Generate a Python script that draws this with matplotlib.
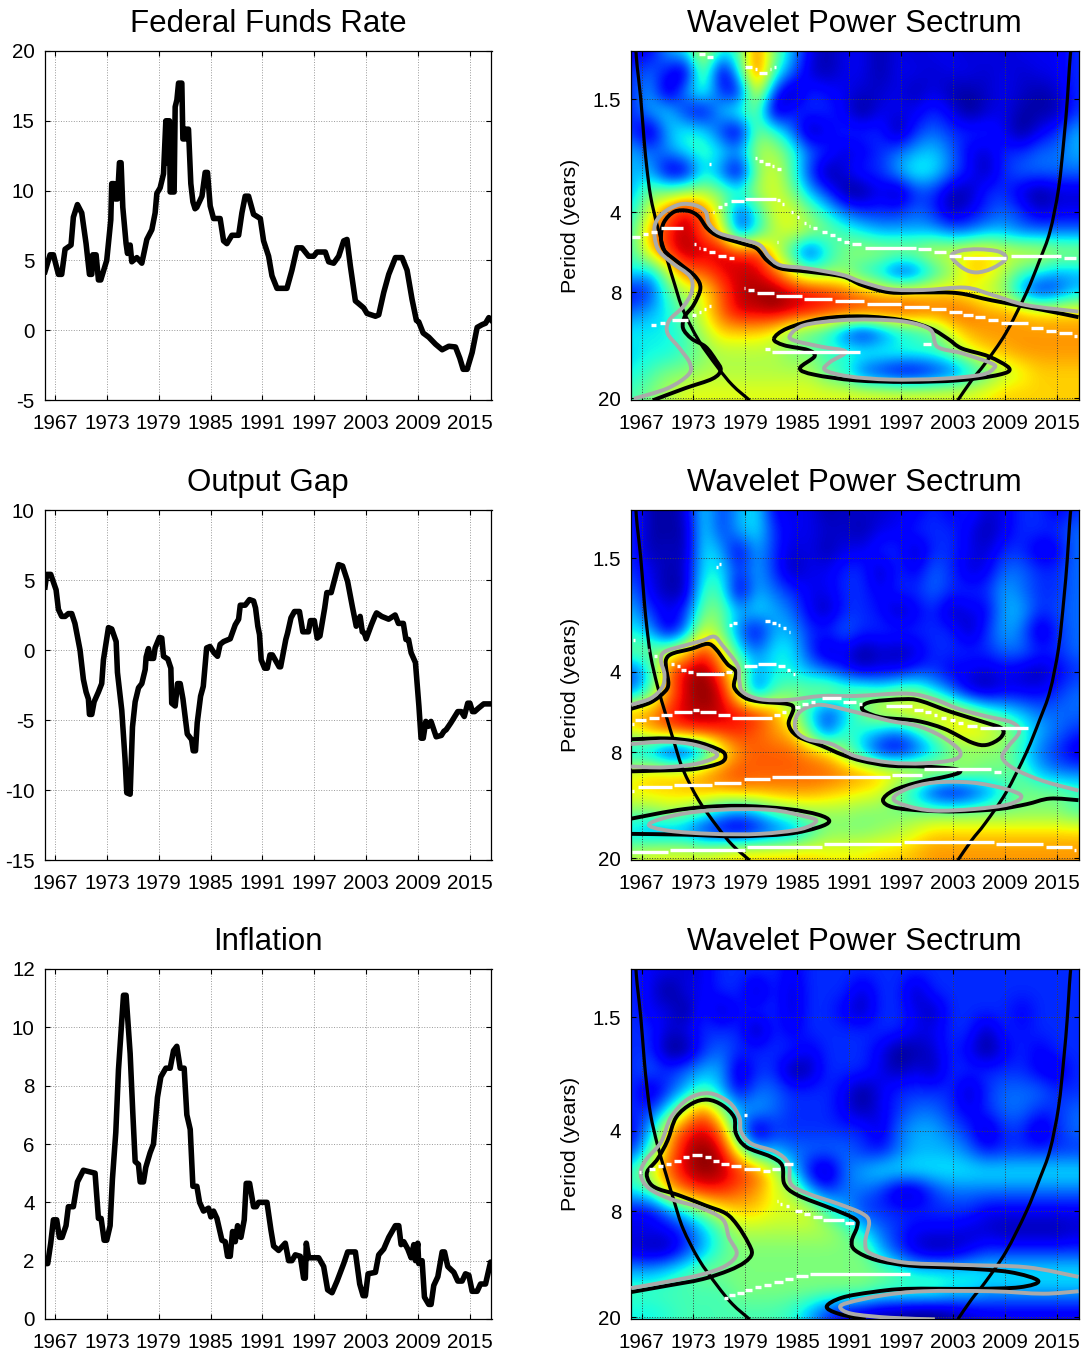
import numpy as np
import matplotlib
matplotlib.use("Agg")
import matplotlib.pyplot as plt
from matplotlib.colors import TwoSlopeNorm
from matplotlib.path import Path
from matplotlib.patches import PathPatch

plt.rcParams['font.family'] = ['Liberation Sans', 'DejaVu Sans']
plt.rcParams['axes.unicode_minus'] = False

# ---- time series
ffr_years = [1965.84,1966.42,1966.81,1967.39,1967.77,1968.16,1968.85,1969.12,1969.59,1970.09,1970.59,1970.98,1971.25,1971.36,1971.75,1972.02,1972.29,1972.98,1973.45,1973.56,1973.83,1973.95,1974.22,1974.45,1974.64,1974.84,1975.22,1975.38,1975.69,1975.88,1976.46,1977.04,1977.62,1978.2,1978.58,1978.78,1979.16,1979.55,1979.82,1979.93,1980.05,1980.24,1980.32,1980.78,1980.9,1981.1,1981.29,1981.67,1981.79,1982.06,1982.14,1982.44,1982.71,1982.95,1983.2,1983.4,1984.0,1984.37,1984.64,1984.95,1985.34,1986.1,1986.5,1986.88,1987.46,1988.24,1988.62,1989.0,1989.39,1989.97,1990.75,1991.13,1991.71,1992.1,1992.68,1993.83,1994.41,1995.0,1995.57,1996.34,1996.92,1997.31,1998.27,1998.66,1999.24,1999.82,2000.4,2000.78,2001.17,2001.75,2002.14,2002.71,2003.1,2004.07,2004.45,2005.03,2005.61,2006.38,2007.15,2007.73,2008.31,2008.81,2009.08,2009.59,2010.24,2011.02,2011.79,2012.56,2013.33,2013.83,2014.22,2014.68,2015.26,2015.84,2016.42,2016.81,2017.19,2017.5]
ffr_values = [4.2,5.4,5.4,4.0,4.0,5.8,6.1,8.1,9.0,8.4,6.2,4.0,4.0,5.4,5.4,3.6,3.6,5.0,7.9,10.5,10.5,9.4,9.4,12,12,8.8,6.2,5.5,6.1,4.9,5.2,4.8,6.5,7.2,8.4,9.8,10.2,11.2,15,12,15,15,9.9,9.9,16,16.5,17.7,17.7,13.7,13.7,14.4,14.4,10.5,9.2,8.7,8.8,9.6,11.3,11.3,8.9,8.0,8.0,6.4,6.2,6.8,6.8,8.4,9.6,9.6,8.3,8,6.4,5.3,3.9,3,3,4.3,5.9,5.9,5.3,5.3,5.6,5.6,4.9,4.8,5.3,6.4,6.5,4.6,2.1,1.9,1.6,1.2,1,1.1,2.7,4,5.2,5.2,4.3,2.2,0.7,0.6,-0.2,-0.5,-1,-1.4,-1.15,-1.2,-2,-2.8,-2.8,-1.6,0.2,0.4,0.5,0.9,0.7]

gap_years = [1965.84,1966.03,1966.5,1967.12,1967.39,1967.77,1968.16,1968.54,1968.93,1969.3,1969.89,1970.28,1970.59,1970.86,1970.98,1971.25,1971.52,1972.02,1972.4,1972.6,1973.18,1973.56,1974.07,1974.22,1974.72,1975.1,1975.3,1975.69,1975.96,1976.27,1976.66,1977.04,1977.43,1977.54,1977.81,1978.0,1978.4,1978.58,1979.08,1979.35,1979.55,1980.05,1980.4,1980.5,1980.9,1981.17,1981.48,1981.8,1982.3,1982.8,1982.99,1983.25,1983.45,1983.84,1984.15,1984.54,1984.93,1985.4,1985.8,1986.1,1986.5,1987.27,1987.85,1988.24,1988.43,1989.0,1989.5,1989.97,1990.2,1990.46,1990.66,1990.85,1991.25,1991.56,1991.87,1992.15,1992.93,1993.1,1993.7,1993.9,1994.3,1994.7,1995.28,1995.67,1996.32,1996.55,1997.0,1997.33,1997.65,1997.9,1998.2,1998.45,1998.95,1999.5,1999.8,2000.27,2000.85,2001.4,2001.85,2002.3,2002.55,2002.8,2003.0,2003.6,2004.0,2004.2,2004.8,2005.6,2006.35,2006.73,2007.3,2007.6,2007.9,2008.2,2008.7,2009.1,2009.35,2009.6,2009.9,2010.2,2010.5,2011.1,2011.7,2012.0,2012.25,2012.8,2013.6,2014.0,2014.35,2014.75,2015.0,2015.3,2015.55,2016.0,2016.6,2017.2,2017.5]
gap_values = [4.5,5.4,5.4,4.3,2.9,2.4,2.4,2.6,2.6,1.9,0,-2.1,-3,-3.5,-4.6,-4.6,-3.7,-3,-2.4,-0.7,1.6,1.5,0.6,-1.6,-4.3,-7.8,-10.2,-10.3,-5.5,-3.7,-2.7,-2.4,-1.4,-0.5,0.1,-0.6,-0.6,0.15,0.9,0.85,-0.45,-0.65,-1.3,-3.8,-4,-2.4,-2.4,-3.5,-6,-6.4,-7.2,-7.2,-5.2,-3.3,-2.6,0.15,0.25,-0.2,-0.45,0.4,0.6,0.8,1.8,2.2,3.2,3.2,3.6,3.5,3,1.7,1.1,-0.7,-1.3,-1.3,-0.35,-0.35,-1.2,-1.2,0.75,1.2,2.3,2.75,2.75,1.3,1.3,2.1,2.1,0.85,1,1.9,3,4.1,4.1,5.4,6.1,6,4.9,3.1,1.7,2.4,1.3,1.2,0.8,1.8,2.4,2.65,2.4,2.2,2.5,1.9,1.9,0.75,0.75,-0.2,-0.9,-4,-6.3,-6.3,-5.1,-5.45,-5.1,-6.2,-6.1,-5.8,-5.7,-5.2,-4.4,-4.4,-4.75,-3.8,-3.8,-4.4,-4.4,-4.15,-3.85,-3.85,-3.85]

inf_years = [1965.84,1966.15,1966.5,1966.81,1967.19,1967.5,1967.81,1968.27,1968.54,1969.12,1969.59,1970.28,1971.63,1972.02,1972.33,1972.68,1972.98,1973.37,1973.64,1974.03,1974.34,1974.92,1975.22,1975.69,1976.0,1976.27,1976.65,1976.85,1977.23,1977.5,1978.0,1978.39,1978.85,1979.24,1979.82,1980.32,1980.71,1981.09,1981.48,1981.94,1982.25,1982.64,1982.95,1983.41,1983.72,1984.18,1984.76,1985.03,1985.34,1985.73,1986.31,1986.69,1986.96,1987.27,1987.54,1987.85,1988.12,1988.51,1988.89,1989.12,1989.51,1989.97,1990.28,1990.55,1991.52,1991.98,1992.29,1992.87,1993.64,1994.03,1994.41,1994.8,1995.38,1995.76,1995.96,1996.07,1996.34,1997.5,1998.08,1998.54,1999.05,1999.63,2000.4,2000.86,2001.75,2002.25,2002.64,2002.91,2003.22,2004.07,2004.45,2005.03,2005.61,2006.38,2006.77,2007.04,2007.35,2007.81,2008.2,2008.51,2008.7,2008.97,2009.08,2009.47,2009.74,2010.24,2010.51,2010.82,2011.29,2011.79,2012.06,2012.44,2013.14,2013.6,2014.1,2014.49,2014.88,2015.26,2015.84,2016.23,2016.81,2017.08,2017.39,2017.58]
inf_values = [1.9,1.9,2.6,3.4,3.4,2.8,2.8,3.2,3.85,3.85,4.7,5.1,5,3.45,3.45,2.7,2.7,3.2,4.8,6.4,8.55,11.1,11.1,9.1,7.05,5.4,5.3,4.7,4.7,5.2,5.7,6,7.6,8.3,8.6,8.6,9.2,9.35,8.6,8.6,7,6.5,4.55,4.55,4,3.7,3.8,3.5,3.7,3.45,2.7,2.65,2.15,2.15,3,2.65,3.2,2.8,3.4,4.65,4.65,3.85,3.85,4,4,3.05,2.5,2.35,2.6,2,2,2.2,2.15,1.4,1.4,2.6,2.1,2.1,1.8,1,0.9,1.3,1.9,2.3,2.3,1.2,0.8,0.8,1.55,1.6,2.2,2.4,2.8,3.2,3.2,2.55,2.65,2.4,2.1,2.55,2,2.6,1.9,2,0.75,0.5,0.5,1.15,1.45,2.3,2.3,1.8,1.6,1.3,1.3,1.55,1.5,0.95,0.95,1.2,1.2,1.55,1.95,1.95]

# ---- wavelet power on a coarse grid, rows are log2(period) 0, .25 ... 4.25
ffr_power = [
 [2,2,5,6,10,6,7,13,8,5,2,1,2,2,1,2,1.5,2,2,1.5,2,1.5,2,2,2,3],
 [3,4,2.5,.5,9,.5,6,14,7,4,1.5,1,2,2,1,2,2,1.5,2,2,1.5,2,1.5,2,2,3],
 [3,5,.5,5,7,3,1.5,11,3,.5,3,2.5,2,1.5,1.5,2,1,2,1,1,1.5,2,1.5,1,1.5,3],
 [3,5,6,2.5,1.5,5.5,7,8,.5,3,3,3,2,.5,2,2,2,3,2,.5,1.5,2,1,1,1,3],
 [3,.5,5,6.5,6,3,.5,8,7,4,.5,2,3,3,3,.5,3,4,3,3,3,2,.5,2,3,5],
 [5,4,4.5,6,7,6,5,9,9,7,4,3,1.5,2,3,4,5,5.5,4,2,1.5,3,3,4,4,5],
 [5,5,1,1,6,4,.5,8,10,7,3,.5,2,3,3,5,6.5,6,4,2.5,1,3,4,4,4,4],
 [5,8,8,9,9,8,7,9,10,8,5,3,.5,.5,2,.5,3,3,1,1,3,3,1.5,.5,1.5,1.5],
 [6,10,13,15,13,9,3,6,10,10,8,6,4,3,3,3,4,3,1,2,3,4,3,1.5,2,2],
 [7,12,14,15.5,13,11,3,6,9,10,9,8,7,6,5,5,5,5,4,4,5,5,4,4,4,4],
 [7,11,14,15.5,15,15,14,14,10,6,2,6,8,9,9,9,9,10,10,11,11,10,10,10,9,9],
 [6,5,9,13,13,14.5,15,15,13,10,8,8,8,6,5,2,3,6,8,11,11,9,7,6,5,5],
 [2,3,7,9,10,13,15,15.5,16,15,14.5,14,13,12,11,11,11,11,11,10,9,8,4,2,3,5],
 [4,5,6,8,10,13,15,15,15.5,15,14.5,14,14,14,14,14,13.5,13,13,13,12,12,11.5,11,11,11],
 [6,6,6,7,9,11,11,11,10,8,7,6,3,1,3,5,6,7,10,11.5,12,12,12,12,12,12],
 [5.5,6,6,7,8,9,9,9,9,8,8,7,7,7,7,7,7,7,8,10,11,11.5,12,12,12,12],
 [6,7,8,8,9,9,9,9,9,9,9,7,6,3,2,1,1,2,3,5,7,9,10,11,11,11],
 [7,8,9,10,10,10,10,10,10,10,10,10,10,10,10,10,10,10,10,10,10.5,11,11,11,11,11],
]
gap_power = [
 [3,1,1,1.5,6,3,5,6,2,2,2,1,1.5,1.5,1.5,2,2,3,2,3,1.5,2,3,3,2,3],
 [3,1,1,1,6,3,5,6,3,2,2,1.5,1.5,1,2,2,3,3,3,2,1,2,3,3,3,4],
 [3,1,1.5,1,6,5,1.5,5,3,1.5,2,1,2,2,3,3,1,3,3,2,1.5,3,3,1.5,2,4],
 [3,2,1,1.5,6,6,3,5,3,1,2,2,3,3,1,3,2,4,3,1.5,2,4,4,3,3,4],
 [4,2,1,1,7,7,1,5,4,3,2,2,3,3,2,3,3,4,3,3,3,5,4,3,3,4],
 [5,3,2,3,8,8,5,6,5,4,2,1,3,3,2.5,1,2,3,1,2,2,5,5,3,3.5,4],
 [6,5,1,4,10,8,4,1.5,5,5,3,3,4,3,3,3,3,3,3,1,3,5,4,1,3,4],
 [8,8,9,11,14,11,6,4,6,6,3,1,2,.5,1.5,1,1.5,3,3,3,3,4,4,3,3,4],
 [3,6,13,15,16,13,9,5,6,6,5,4,2.5,1.5,2,2,3,3,2,2,1.5,2,1.5,1,2,3],
 [4,7,12,15,16,15,9,3,7,8,8,9,8,8,7,8,8,6,4,1.5,1,2,2,2,3,4],
 [12,12,14,15,15.5,15,14.5,14,12,9,6,3,5,8,10,10.5,11,11,10,9,7,6,5,4,4,4],
 [10,12,13,14,14,14,14,13,12,11,7,3,7,6,5,4,6,8,10.5,11,10.5,9,7,5,4,3],
 [5,4,1,1,4,9,12,13,13,13,12,11,8,5,2,1.5,3,5,7,8,8,8,6,4,3,1.5],
 [10,11,11,11,12,13,13.5,13,13,13,13,13,12.5,12,11.5,11,10.5,10,9.5,9,8,8,7,5,4,4],
 [10.5,11,11,11.5,11.5,11.5,12,12,12,12,12,11.5,11,10.5,10,7,5,2,1,2,4,6,8,8,8,7],
 [8,8,9,8,7,5,4,5,7,8,8.5,8.5,8.5,8,8,8,8,8,8,8,8,8,8,8,8,7],
 [5,4,4,4,2,1.5,1,2,3,4,6,8,8,8,8.5,9,10,11,11,11,11,11,11,11,11,11],
 [9,10,10,10,10,10.5,11,11,11,11,11,10.5,10.5,10.5,11,11,11.5,12,12,12,12,12,12,12,12,12],
]
inf_power = [
 [3,2,2,1.5,2,3,3,3,3,2,3,3,3,3,3,3,3,3,3,3,3,3,3,3,3,3],
 [3,2,.5,2,2,3,3,1,3,1.5,3,3,3,1.5,3,3,1,3,3,3,3,3,3,3,3,3],
 [3,2,2,.5,3,1,2.5,3,3,1.5,3,3,2,1,3,3,2,1,3,3,3,3,2,3,3,3],
 [3,3,1.5,2,3,3,3,.5,3,2,3,3,3,3,3,3,2,2,3,3,1,3,2.5,3,3,3],
 [3,3,.5,.5,3,4,3,3,3,3,2,3,3,3,2,.5,1,1.5,3,2,.5,2,3,2,3,3],
 [3,4,3,4,5,5,1,3,3,.5,1,3,3,3,2,1,2,1,3,3,3,3,3,2,1.5,3],
 [3,1,3,5,7,5,2,4,4,3,3,3,2,.5,2,3,3,3,3,1,3,4,4,4,3,3],
 [3,3,6,10,13,9,5,5,4,3,3,3,2,1,2,3,4,4,3,2,3,4,4,3,3,4],
 [2,5,11,14,15,13,5,.5,3,3,3,3,3,3,1.5,4,5,5,4,3,1,3,3,1,3,4],
 [3,7,12,15,16,15,10,5,5,4,4,4,4,3,2.5,4,5,5,5,4,2.5,3,3,3,3,3],
 [7,10,13,15,16,15.5,14,13,10,6,2,.5,4,5,6,6,6,6,6,6,6,6,6,6,6,6],
 [6,7,11,13,14,14,13,12,10,9,5,3,4,4,3,1,1,3,4,4,4,4,4,4,4,4],
 [2,2,4,6,8,10,11,11,10,10,10,7,5,3,3,3,3,3,3,3,2,2,2,2,2,2],
 [2,2,2,3,5,7,9,9,9,9,9,9,8,6,4,3,2,2,2,1.5,1.5,1,1,1,1,1.5],
 [1.5,1,1,3,5,7,8,8,8,8,8,8,8,8,5,3,1.5,.8,1,2,3,3,3,3,3,3],
 [5,5,6,7,8,8,8,8,8,8,8,8,8,8,8,7,6,6,6,6,6,6,6,6,6,6],
 [7,7,7,7,7,7,8,8,8,8,8,8,8,8,7,7,7,7,6,6,5,5,5,5,5,5],
 [6,6,6.5,7,7,7,7,7,7,6.5,5,3,2,1.5,1,.8,.5,.5,1,1.5,2,2,2,2,2,2],
]

# ---- cone of influence, same on all three
cone_left_x = [1966.35,1966.5,1966.9,1967.3,1967.6,1968.05,1968.85,1969.85,1970.8,1971.8,1973.6,1975.75,1977.5,1979.5]
cone_left_y = [-0.02,0.18,0.57,1.10,1.43,1.80,2.18,2.55,2.89,3.22,3.60,3.93,4.16,4.35]
cone_right_x = [2016.6,2016.45,2016.2,2015.8,2015.2,2014.2,2013.0,2011.45,2009.1,2006.7,2005.15,2003.55]
cone_right_y = [-0.02,0.18,0.60,1.10,1.70,2.24,2.60,3.01,3.51,3.89,4.10,4.35]

# ---- significance contours (year, log2 period)
ffr_black = [
 ([2017.5,2013.4,2007.5,2003.6,1999.6,1995.7,1992.5,1990.2,1986.2,1983.05,1981.5,1980.3,1978.7,1975.95,1974.6,1973.6,1972.4,1970.8,1969.6,1969.25,1969.6,1971.4,1973.2,1973.8,1973,1972,1971.8,1972.8,1974.4,1975.6,1976.15,1975.2,1972,1968.3],
  [3.31,3.22,3.10,3.01,3.00,3.00,2.91,2.80,2.74,2.70,2.60,2.45,2.39,2.30,2.20,2.05,1.98,1.99,2.12,2.30,2.47,2.64,2.80,2.95,3.16,3.30,3.45,3.58,3.68,3.85,3.97,4.08,4.20,4.35]),
 ([1982.3,1983.85,1987.8,1992.5,1997.3,2000.4,2002.4,2004,2007.1,2009.5,2008.3,2003.6,1997.65,1991.7,1987,1985.3,1987,1986.2,1983.45,1982.3],
  [3.58,3.45,3.33,3.30,3.35,3.45,3.58,3.70,3.80,3.95,4.03,4.10,4.12,4.10,4.03,3.95,3.80,3.72,3.66,3.58]),
]
ffr_gray = [
 ([2017.5,2011.5,2007.5,2004.4,1999.6,1995.7,1992.5,1990.2,1986.2,1983.05,1981.7,1980.7,1978.7,1976,1974.8,1974.4,1973.2,1971.4,1969.45,1968.5,1968.85,1970.4,1972.6,1972.8,1971.8,1970.2,1970,1971.4,1972.6,1972.4,1970,1966.1],
  [3.24,3.16,3.03,2.94,2.97,2.96,2.87,2.78,2.70,2.66,2.55,2.41,2.34,2.26,2.14,1.99,1.91,1.90,2.01,2.18,2.45,2.62,2.80,2.99,3.18,3.35,3.51,3.70,3.89,4.03,4.20,4.33]),
 ([1984.2,1985.8,1989.8,1993.7,1997.65,2000.4,2001.2,2004,2007.5,2007.7,2006.3,2001.6,1995.7,1990.9,1988.2,1988.8,1990.6,1987.8,1984.6,1984.2],
  [3.53,3.41,3.35,3.34,3.37,3.47,3.68,3.76,3.89,3.95,4.03,4.08,4.09,4.05,3.97,3.87,3.74,3.68,3.60,3.53]),
 ([2002.8,2003.8,2005.9,2008.3,2009.1,2007.5,2005.7,2004.2,2002.8],
  [2.55,2.48,2.46,2.49,2.58,2.70,2.75,2.70,2.55]),
]
gap_black = [
 ([1965.8,1968.05,1969.65,1970.1,1969.85,1969.85,1970.6,1972.8,1974.6,1975.55,1976.9,1977.9,1977.7,1978.9,1980.7,1983.85,1984.55,1984,1985,1987.8,1990.15,1992.5,1995.7,1999.6,2003.2,2003.8,2002.4,1998.9,1996.1,1994.9,1996.1,1999.6,2003.6,2008.3,2011.5,2014.2,2017.5],
  [2.46,2.38,2.25,2.15,1.96,1.84,1.77,1.71,1.65,1.71,1.90,2.00,2.19,2.32,2.37,2.40,2.46,2.65,2.80,2.92,3.03,3.11,3.17,3.18,3.21,3.25,3.30,3.38,3.48,3.60,3.69,3.73,3.74,3.71,3.65,3.58,3.60]),
 ([1992.5,1993.7,1997.25,1999.2,2002.8,2006.7,2008.7,2008.5,2006.9,2005.15,2002,1998.8,1994.9,1992.9,1992.5],
  [2.43,2.37,2.34,2.36,2.50,2.63,2.71,2.82,2.91,2.88,2.71,2.61,2.57,2.50,2.43]),
 ([1965.8,1970,1973.2,1975.75,1976.65,1976.2,1973.2,1969.2,1965.8],
  [2.84,2.83,2.87,2.96,3.03,3.13,3.21,3.23,3.24]),
 ([1965.8,1972,1977.9,1983.85,1987.4,1988.7,1987.4,1983.85,1977.9,1972,1965.8],
  [3.83,3.71,3.67,3.71,3.78,3.86,3.94,4.02,4.05,4.03,4.02]),
]
gap_gray = [
 ([1965.8,1968.05,1969.4,1969.65,1969.25,1969.65,1972,1974,1975.4,1976.35,1978.1,1978.3,1978.7,1980.7,1983.85,1987.8,1991.7,1997.65,2000.8,2003.6,2006.7,2009.8,2010.65,2009.3,2008.7,2010.1,2013.4,2017.5],
  [2.41,2.33,2.19,2.03,1.86,1.75,1.67,1.61,1.56,1.67,1.92,2.11,2.25,2.34,2.35,2.30,2.30,2.27,2.34,2.46,2.55,2.63,2.75,2.94,3.07,3.21,3.36,3.48]),
 ([1984.85,1985.8,1987.8,1991.7,1995.7,1998.8,2001.6,2003.75,2003.2,1999.6,1995.7,1991.7,1988.95,1986.2,1984.85,1984.85],
  [2.57,2.46,2.41,2.50,2.61,2.67,2.80,2.98,3.09,3.14,3.13,3.05,2.90,2.84,2.73,2.57]),
 ([1965.8,1969.65,1973.2,1975.75,1973.6,1969.65,1965.8],
  [2.90,2.87,2.91,3.03,3.14,3.19,3.18]),
 ([1967.85,1971.2,1975.95,1981.9,1985.8,1987.2,1985.4,1980.7,1975.2,1970.1,1967.85],
  [3.90,3.78,3.72,3.72,3.80,3.86,3.96,4.02,4.02,3.98,3.90]),
 ([1996.1,1997.65,2000.8,2005.15,2009.1,2010.9,2009.5,2005.5,2000.8,1997.65,1996.1],
  [3.58,3.46,3.38,3.38,3.46,3.55,3.65,3.71,3.73,3.67,3.58]),
]
inf_black = [
 ([1965.8,1970,1974,1977.1,1978.9,1979.75,1979.3,1978.1,1976.75,1974.4,1971.25,1968.85,1967.9,1967.65,1968.85,1970,1971,1972.8,1974.6,1976.35,1977.7,1977.9,1979.1,1981.9,1983.25,1983.5,1985,1989,1991.7,1991.9,1991.3,1991.7,1994.1,1998,2003.6,2009.5,2012.85,2010.7,2005.5,1997.65,1993.7,1990.15,1988.4,1989.75,1992.9],
  [4.01,3.93,3.85,3.74,3.64,3.53,3.39,3.18,3.03,2.93,2.80,2.72,2.64,2.51,2.35,2.12,1.83,1.66,1.61,1.68,1.83,2.03,2.20,2.32,2.43,2.66,2.80,2.97,3.10,3.20,3.37,3.49,3.61,3.68,3.71,3.76,3.87,3.95,3.97,3.97,4.01,4.08,4.19,4.28,4.35]),
]
inf_gray = [
 ([1965.8,1970,1974,1976.75,1978,1977.1,1976.35,1973.6,1970.4,1967.9,1966.9,1967.45,1969.25,1970.4,1972.4,1974.8,1977.1,1978.3,1978.5,1979.7,1982.45,1984,1984.25,1986.2,1989.75,1992.5,1993.3,1992.85,1993.5,1997.25,2003.6,2011.45,2017.5],
  [3.96,3.88,3.79,3.68,3.53,3.33,3.10,2.95,2.85,2.72,2.55,2.37,2.14,1.83,1.60,1.53,1.64,1.83,2.01,2.16,2.26,2.41,2.66,2.78,2.91,3.03,3.14,3.39,3.53,3.64,3.67,3.70,3.82]),
 ([2017.5,2013.4,2007.5,1999.6,1994.9,1990.95,1989.95,1991.3,1995.7,2000.9],
  [4.00,4.03,4.00,4.00,4.05,4.14,4.20,4.28,4.33,4.35]),
]

# ---- ridges of local maxima: start year, end year, log2 period
ffr_ridge_x0 = [1973.6,1974.6,1978.9,1980.1,1980.6,1981.8,1982.3,1974.8,1980.1,1980.6,1981.3,1982.1,1982.6,1965.9,1967.2,1968.1,1969.25,1975.2,1975.8,1976.5,1977.3,1979,1982.7,1983.25,1984.3,1985,1985.8,1986.3,1986.8,1987.8,1988.8,1989.6,1990.35,1991.3,1992.8,1999,2000.8,2002.5,2004.2,2009.7,2015.8,1982.6,1973.1,1973.6,1974.1,1974.8,1975.8,1977.1,1978.8,1979.3,1980.3,1982.5,1985.8,1989.3,1993,1997.3,2000.5,2002.5,2004.2,2005.5,2007,2008.5,2012,2013.7,2015.3,2017,1968.1,1969.1,1970.5,1972.8,1973.6,1974.2,1974.8,1981.3,1982.1,1999.5]
ffr_ridge_x1 = [1974.3,1975.3,1979.8,1980.3,1981.5,1982.0,1982.5,1975.0,1980.3,1981,1981.8,1982.3,1983.1,1966.8,1967.7,1968.8,1971.8,1975.4,1976.3,1976.9,1978.8,1982.5,1983,1983.45,1984.5,1985.2,1986,1986.5,1987.3,1988.4,1989.3,1990,1990.95,1992.4,1998.75,2000.5,2002.2,2003.9,2009.1,2015.5,2017.2,1982.8,1973.3,1973.8,1974.5,1975.5,1976.8,1977.7,1979,1980,1982.3,1985.5,1989,1992.7,1997,2000.2,2002.2,2004,2005.3,2006.7,2008.2,2011.7,2013.4,2014.9,2016.7,2017.3,1968.7,1969.7,1972.4,1973.3,1973.9,1974.5,1975,1981.8,1992.2,2000.5]
ffr_ridge_p = [0.02,0.05,0.18,0.21,0.25,0.21,0.18,1.39,1.32,1.36,1.39,1.42,1.46,2.31,2.27,2.24,2.20,2.00,1.93,1.89,1.86,1.83,1.85,1.90,2.00,2.06,2.13,2.17,2.20,2.24,2.28,2.33,2.37,2.40,2.44,2.46,2.50,2.54,2.57,2.54,2.57,2.37,2.40,2.44,2.46,2.50,2.54,2.57,2.94,2.97,3.01,3.04,3.08,3.11,3.14,3.18,3.21,3.25,3.28,3.31,3.35,3.38,3.45,3.48,3.51,3.55,3.41,3.38,3.34,3.28,3.24,3.21,3.17,3.71,3.75,3.65]

gap_ridge_x0 = [1975.6,1976,1977.1,1977.6,1981.3,1982.1,1982.8,1983.4,1984,1966,1967,1967.7,1968.45,1970.35,1971.15,1971.6,1972.4,1973.3,1976.8,1978.8,1980.5,1982.8,1983.85,1984.45,1965.9,1966.3,1967.9,1969.25,1970.75,1973,1973.8,1975.8,1977.5,1982.3,1983.25,1984.7,1985.6,1986.6,1987.8,1990.25,1992.15,1995.3,1998.5,1999.8,2000.8,2001.6,2002.6,2003.6,2004.6,2006.1,1965.9,1966.6,1970.8,1975.4,1978.8,1982.1,1996,1999.7,2007.7,1965.9,1970.3,1979.2,1988.1,1997.3,2008,2013.7,2017]
gap_ridge_x1 = [1975.85,1976.2,1977.4,1978,1981.8,1982.5,1983.05,1983.7,1984.2,1966.2,1967.1,1967.9,1968.8,1970.75,1971.5,1972.1,1973,1976.55,1977.5,1980.3,1982.5,1983.6,1984.1,1984.7,1966.1,1967.5,1969.05,1970.5,1972.8,1973.6,1975.6,1977.25,1982.1,1983.05,1983.65,1985.3,1986.2,1987,1990,1991.75,1992.5,1998.25,1999.5,2000.4,2001.2,2002.2,2003.2,2004.2,2005.8,2011.7,1966.1,1970.5,1975.1,1978.5,1981.8,1995.7,1999.4,2007.4,2008.5,1970.1,1978.9,1987.8,1997,2007.7,2013.4,2016.8,2017.2]
gap_ridge_p = [0.69,0.65,1.42,1.39,1.36,1.39,1.42,1.45,1.50,1.60,1.66,1.73,1.80,1.90,1.93,1.97,2.00,2.03,2.00,1.93,1.90,1.93,1.97,2.03,2.65,2.60,2.57,2.54,2.50,2.47,2.50,2.54,2.57,2.54,2.50,2.44,2.40,2.37,2.33,2.37,2.40,2.43,2.47,2.50,2.54,2.57,2.60,2.64,2.67,2.70,3.48,3.44,3.41,3.38,3.34,3.31,3.28,3.21,3.25,4.25,4.22,4.19,4.15,4.12,4.15,4.19,4.22]

inf_ridge_x0 = [1978.8,1966.7,1967.9,1968.85,1969.85,1970.75,1971.8,1972.8,1974.3,1975.3,1976.2,1977.35,1978.8,1981,1982.05,1983.45,1982.6,1983.05,1983.65,1984.7,1985.8,1986.8,1988,1990.55,1976.55,1977.15,1978.05,1979,1980.1,1981.1,1982.25,1983.6,1984.85,1986.5]
inf_ridge_x1 = [1979.2,1966.9,1968.55,1969.45,1970.4,1971.55,1972.5,1974,1975,1975.95,1977.05,1978.5,1980.7,1981.8,1983.05,1984.45,1982.75,1983.25,1984.05,1985.5,1986.5,1987.8,1990.35,1991.55,1976.95,1977.8,1978.8,1979.8,1980.75,1982,1983.3,1984.55,1986.2,1998]
inf_ridge_p = [1.80,2.51,2.47,2.44,2.41,2.38,2.33,2.30,2.33,2.38,2.41,2.44,2.47,2.50,2.47,2.41,2.88,2.91,2.94,3.00,3.04,3.07,3.11,3.15,4.09,4.05,4.02,3.98,3.95,3.92,3.88,3.85,3.81,3.78]

year_ticks = [1967,1973,1979,1985,1991,1997,2003,2009,2015]
period_ticks = [1.5,4,8,20]
period_labels = ['1.5','4','8','20']

W, H = 1085, 1350
fig = plt.figure(figsize=(W/100, H/100), dpi=100)


def px_axes(x0, x1, y0, y1):
    return fig.add_axes([x0/W, 1-y1/H, (x1-x0)/W, (y1-y0)/H])


def style(ax, title, grid_color):
    ax.set_xlim(1965.78, 2017.5)
    ax.set_xticks(year_ticks)
    ax.tick_params(direction='in', top=True, right=True, length=3.6, width=0.8,
                   labelsize=14.8)
    ax.tick_params(axis='x', pad=10)
    ax.tick_params(axis='y', pad=7)
    ax.grid(True, linestyle=':', linewidth=0.7, color=grid_color)
    ax.set_axisbelow('line')
    ax.set_title(title, fontsize=22.5, pad=14)
    for s in ax.spines.values():
        s.set_linewidth(0.9)


def smooth_curve(ax, x, y, color, lw, z):
    # catmull-rom through the read points, only for the drawing
    p = np.column_stack([x, y])
    closed = x[0] == x[-1] and y[0] == y[-1]
    verts = [p[0]]
    codes = [Path.MOVETO]
    n = len(p)
    for i in range(n-1):
        p0 = p[i-1] if i > 0 else (p[n-2] if closed else p[i])
        p3 = p[i+2] if i+2 < n else (p[1] if closed else p[i+1])
        verts += [p[i]+(p[i+1]-p0)/6, p[i+1]-(p3-p[i])/6, p[i+1]]
        codes += [Path.CURVE4]*3
    ax.add_patch(PathPatch(Path(verts, codes), fill=False, edgecolor=color, lw=lw,
                           zorder=z, capstyle='butt', joinstyle='round'))


def draw_line(ax, x, y, ylim, yticks, title):
    ax.plot(x, y, color='black', lw=4.0)
    ax.set_ylim(*ylim)
    ax.set_yticks(yticks)
    style(ax, title, '#999999')


def draw_wave(ax, power, black, gray, rx0, rx1, rp):
    ax.imshow(np.array(power, dtype=float), cmap='jet', aspect='auto',
              norm=TwoSlopeNorm(vmin=0.5, vcenter=8, vmax=16),
              extent=(1964.95, 2018.08, 4.375, -0.125), origin='upper',
              interpolation='bicubic', interpolation_stage='data', zorder=0)
    smooth_curve(ax, cone_left_x, cone_left_y, 'black', 2.3, 3)
    smooth_curve(ax, cone_right_x, cone_right_y, 'black', 2.3, 3)
    for cx, cy in black:
        smooth_curve(ax, cx, cy, 'black', 2.8, 4)
    for cx, cy in gray:
        smooth_curve(ax, cx, cy, '#aaaaaa', 2.8, 5)
    ax.hlines(rp, rx0, rx1, color='white', lw=2.4, zorder=6)
    ax.set_ylim(4.346, -0.02)
    ax.set_yticks(np.log2(period_ticks))
    ax.set_yticklabels(period_labels)
    style(ax, 'Wavelet Power Sectrum', '#404040')
    ax.set_ylabel('Period (years)', fontsize=15.4)
    ax.yaxis.set_label_coords(-0.115, 0.5)


rows = [(51, 400), (510, 860), (969, 1319)]

ax = px_axes(44.5, 491.5, *rows[0])
draw_line(ax, ffr_years, ffr_values, (-5, 20), [-5, 0, 5, 10, 15, 20], 'Federal Funds Rate')
ax = px_axes(44.5, 491.5, *rows[1])
draw_line(ax, gap_years, gap_values, (-15, 10), [-15, -10, -5, 0, 5, 10], 'Output Gap')
ax = px_axes(44.5, 491.5, *rows[2])
draw_line(ax, inf_years, inf_values, (0, 12), [0, 2, 4, 6, 8, 10, 12], 'Inflation')

ax = px_axes(631, 1078.5, *rows[0])
draw_wave(ax, ffr_power, ffr_black, ffr_gray, ffr_ridge_x0, ffr_ridge_x1, ffr_ridge_p)
ax = px_axes(631, 1078.5, *rows[1])
draw_wave(ax, gap_power, gap_black, gap_gray, gap_ridge_x0, gap_ridge_x1, gap_ridge_p)
ax = px_axes(631, 1078.5, *rows[2])
draw_wave(ax, inf_power, inf_black, inf_gray, inf_ridge_x0, inf_ridge_x1, inf_ridge_p)

fig.savefig('out.png', dpi=100)
